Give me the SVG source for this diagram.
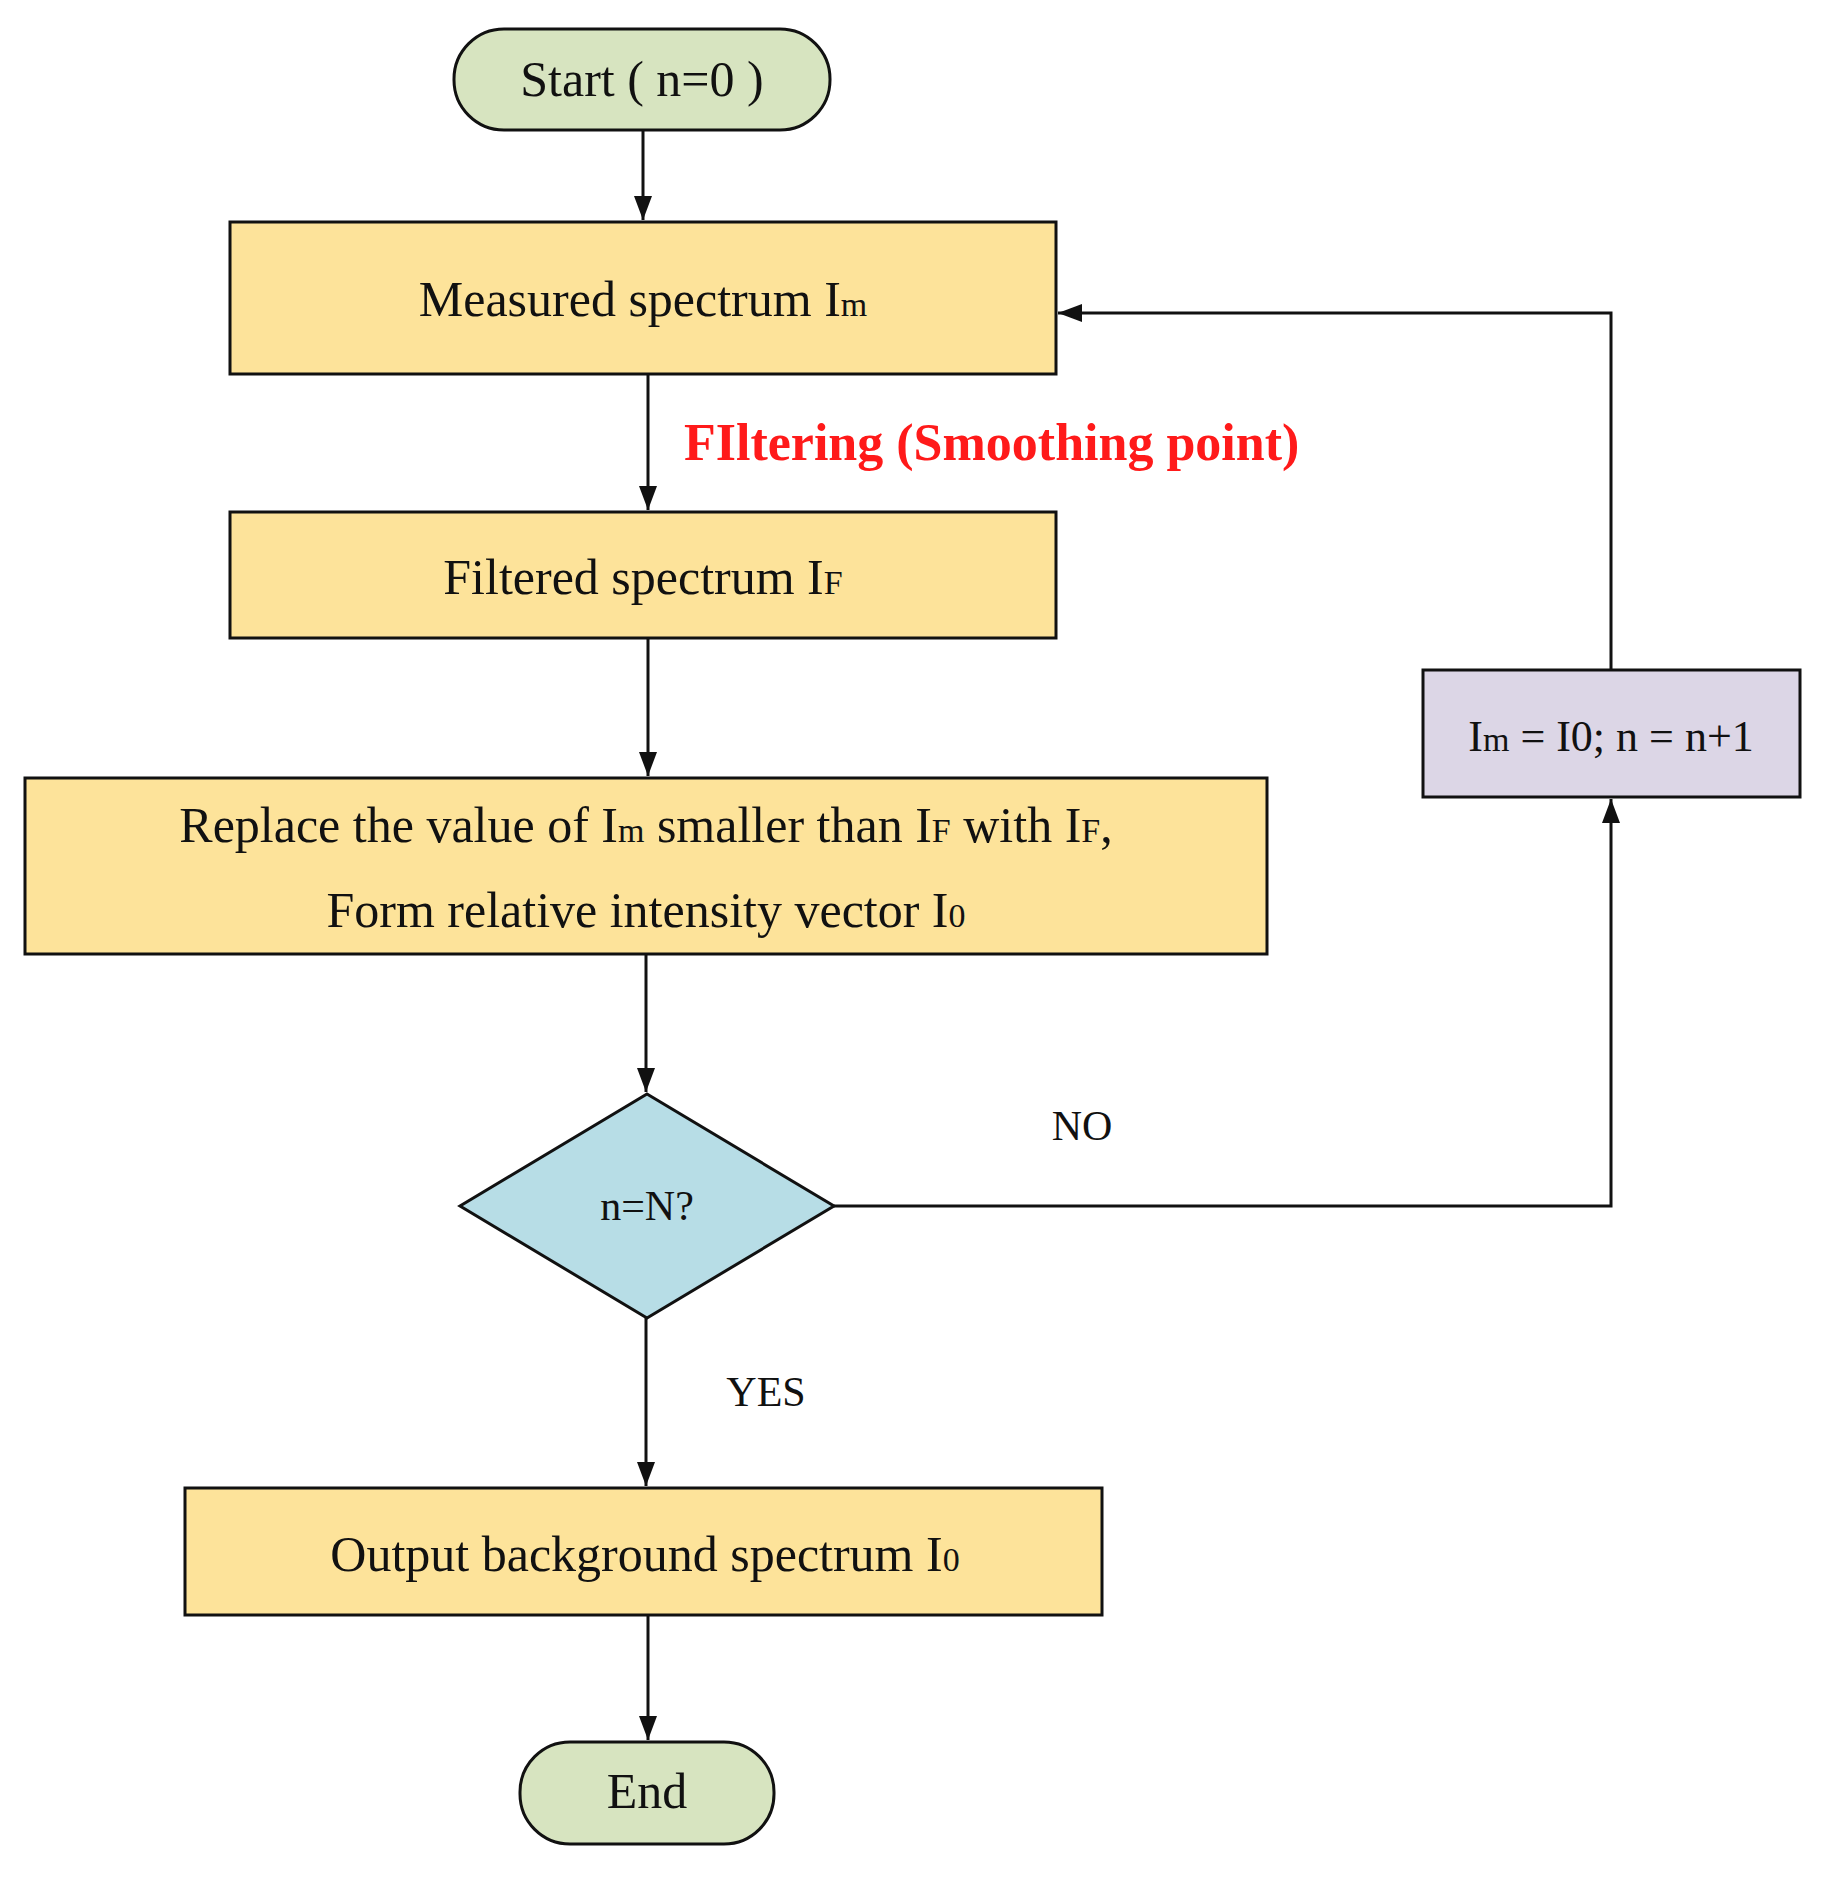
<svg xmlns="http://www.w3.org/2000/svg" width="1836" height="1901" viewBox="0 0 1836 1901">
<style>
.t{font-family:"Liberation Serif",serif;font-size:50px;fill:#111;text-anchor:middle}
.s{font-size:34px}
.box{fill:#fde39a;stroke:#111;stroke-width:3}
.term{fill:#d7e4c0;stroke:#111;stroke-width:3}
.ln{fill:none;stroke:#111;stroke-width:3}
</style>
<defs><marker id="a" markerWidth="10" markerHeight="10" refX="9" refY="5" orient="auto" markerUnits="userSpaceOnUse" viewBox="0 0 10 10"><path d="M0,0L10,5L0,10z" fill="#111"/></marker>
<marker id="b" markerWidth="24" markerHeight="24" refX="24" refY="12" orient="auto" markerUnits="userSpaceOnUse" viewBox="0 0 24 24"><path d="M0,3L24,12L0,21z" fill="#111"/></marker></defs>
<g id="start"><rect class="term" x="454" y="29" width="376" height="101" rx="50"/><text class="t" x="642" y="96">Start ( n=0 )</text></g>
<g id="measured"><rect class="box" x="230" y="222" width="826" height="152"/><text class="t" x="643" y="316">Measured spectrum I<tspan class="s">m</tspan></text></g>
<text x="684" y="460" style="font-family:'Liberation Serif',serif;font-size:52px;font-weight:bold;fill:#ff1a1a">FIltering (Smoothing point)</text>
<g id="filtered"><rect class="box" x="230" y="512" width="826" height="126"/><text class="t" x="643" y="594">Filtered spectrum I<tspan class="s">F</tspan></text></g>
<g id="replace"><rect class="box" x="25" y="778" width="1242" height="176"/><text class="t" x="646" y="842">Replace the value of  I<tspan class="s">m</tspan>  smaller than I<tspan class="s">F</tspan> with I<tspan class="s">F</tspan>,</text><text class="t" x="646" y="927">Form relative intensity vector I<tspan class="s">0</tspan></text></g>
<g id="decision"><path d="M647,1094L834,1206L647,1318L460,1206z" fill="#b7dde6" stroke="#111" stroke-width="3"/><text class="t" x="647" y="1220" style="font-size:42px">n=N?</text></g>
<g id="update"><rect x="1423" y="670" width="377" height="127" fill="#dcd6e6" stroke="#111" stroke-width="3"/><text class="t" x="1611" y="751" style="font-size:44px">I<tspan class="s">m</tspan> = I0; n = n+1</text></g>
<g id="output"><rect class="box" x="185" y="1488" width="917" height="127"/><text class="t" x="645" y="1571">Output background spectrum I<tspan class="s">0</tspan></text></g>
<g id="end"><rect class="term" x="520" y="1742" width="254" height="102" rx="50"/><text class="t" x="647" y="1808">End</text></g>
<g id="connectors" class="ln">
<path d="M643,130V220" marker-end="url(#b)"/>
<path d="M648,374V510" marker-end="url(#b)"/>
<path d="M648,638V776" marker-end="url(#b)"/>
<path d="M646,954V1092" marker-end="url(#b)"/>
<path d="M646,1318V1486" marker-end="url(#b)"/>
<path d="M648,1615V1740" marker-end="url(#b)"/>
<path d="M834,1206H1611V799" marker-end="url(#b)"/>
<path d="M1611,670V313H1058" marker-end="url(#b)"/>
</g>
<text class="t" x="1082" y="1140" style="font-size:42px">NO</text>
<text class="t" x="766" y="1406" style="font-size:42px">YES</text>
</svg>
